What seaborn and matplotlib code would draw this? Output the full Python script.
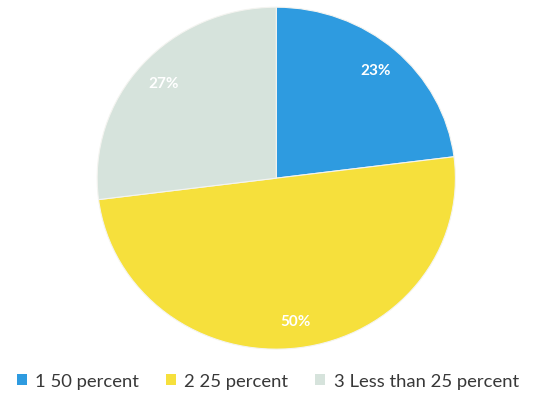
import matplotlib
matplotlib.use("Agg")
import matplotlib.pyplot as plt
import seaborn as sns
from matplotlib.patches import Patch

# data
labels = ["1 50 percent", "2 25 percent", "3 Less than 25 percent"]
shares = [23, 50, 27]
colors = ["#2e9be0", "#f6e03c", "#d6e3dc"]

sns.set_theme(style="white")
plt.rcParams["font.family"] = ["Lato", "DejaVu Sans"]
palette = sns.color_palette(colors)

fig = plt.figure(figsize=(5.52, 4.10), dpi=100)
ax = fig.add_axes([0.176, 0.146, 0.649, 0.834])

wedges, _, autotexts = ax.pie(
    shares, colors=palette, startangle=90, counterclock=False,
    autopct="%d%%", pctdistance=0.84, radius=1.0,
    wedgeprops=dict(linewidth=0.8, edgecolor="#f4f4f0"),
    textprops=dict(color="white", fontsize=11, fontweight="bold"),
)
ax.set_aspect("auto")
ax.set_xlim(-1, 1)
ax.set_ylim(-1, 1)

handles = [Patch(facecolor=c, edgecolor="none") for c in palette]
fig.legend(handles, labels, loc="center", bbox_to_anchor=(0.485, 0.068), ncol=3,
           frameon=False, fontsize=13.3, handlelength=0.55, handleheight=0.55,
           handletextpad=0.45, columnspacing=1.45, labelcolor="#383838")

fig.savefig("out.png", dpi=100)
